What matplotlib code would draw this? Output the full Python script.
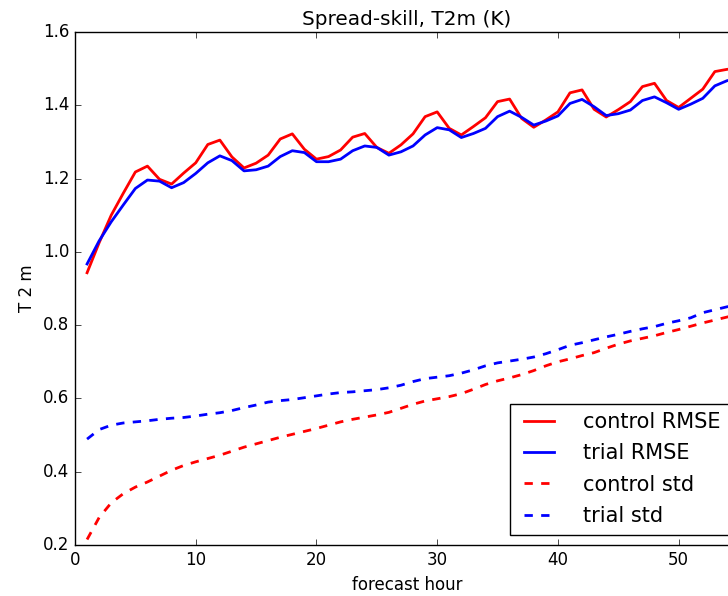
import numpy as np
import matplotlib
matplotlib.use('Agg')
import matplotlib.pyplot as plt

plt.style.use('classic')

# forecast hours
hours = np.arange(1, 56)

control_rmse = [0.943, 1.025, 1.100, 1.160, 1.218, 1.234, 1.198, 1.185, 1.215, 1.243,
                1.293, 1.305, 1.259, 1.229, 1.242, 1.264, 1.308, 1.322, 1.280, 1.253,
                1.260, 1.278, 1.313, 1.323, 1.285, 1.269, 1.292, 1.322, 1.369, 1.382,
                1.337, 1.319, 1.342, 1.366, 1.410, 1.417, 1.364, 1.340, 1.360, 1.382,
                1.434, 1.442, 1.389, 1.368, 1.388, 1.410, 1.451, 1.460, 1.413, 1.394,
                1.419, 1.444, 1.492, 1.498, 1.502]
trial_rmse = [0.967, 1.030, 1.082, 1.128, 1.173, 1.196, 1.193, 1.175, 1.189, 1.214,
              1.243, 1.262, 1.249, 1.221, 1.224, 1.234, 1.260, 1.276, 1.271, 1.246,
              1.246, 1.253, 1.276, 1.289, 1.285, 1.264, 1.273, 1.289, 1.319, 1.339,
              1.333, 1.312, 1.323, 1.337, 1.369, 1.384, 1.367, 1.346, 1.357, 1.371,
              1.405, 1.416, 1.396, 1.372, 1.377, 1.387, 1.413, 1.423, 1.407, 1.389,
              1.403, 1.419, 1.453, 1.467, 1.475]
control_std = [0.215, 0.275, 0.315, 0.340, 0.358, 0.372, 0.388, 0.404, 0.417, 0.427,
               0.436, 0.445, 0.456, 0.467, 0.476, 0.485, 0.494, 0.502, 0.510, 0.518,
               0.527, 0.536, 0.543, 0.549, 0.555, 0.562, 0.573, 0.584, 0.593, 0.599,
               0.605, 0.613, 0.625, 0.638, 0.648, 0.656, 0.665, 0.676, 0.689, 0.700,
               0.708, 0.717, 0.725, 0.737, 0.748, 0.757, 0.764, 0.771, 0.780, 0.788,
               0.797, 0.806, 0.814, 0.822, 0.830]
trial_std = [0.489, 0.515, 0.527, 0.533, 0.536, 0.539, 0.543, 0.546, 0.548, 0.552,
             0.557, 0.561, 0.567, 0.575, 0.582, 0.590, 0.594, 0.597, 0.602, 0.607,
             0.612, 0.616, 0.618, 0.621, 0.624, 0.629, 0.636, 0.646, 0.654, 0.658,
             0.662, 0.669, 0.678, 0.689, 0.697, 0.702, 0.707, 0.713, 0.722, 0.733,
             0.745, 0.752, 0.760, 0.768, 0.775, 0.783, 0.790, 0.796, 0.805, 0.812,
             0.820, 0.834, 0.842, 0.850, 0.858]

fig = plt.figure(figsize=(7.28, 5.96), dpi=100, facecolor='white')
# axes run past the right edge of the picture, as in the reference crop
ax = fig.add_axes([75 / 728, 51 / 596, 664 / 728, 513 / 596])

ax.plot(hours, control_rmse, 'r-', lw=2, label='control RMSE')
ax.plot(hours, trial_rmse, 'b-', lw=2, label='trial RMSE')
ax.plot(hours, control_std, 'r--', lw=2, label='control std')
ax.plot(hours, trial_std, 'b--', lw=2, label='trial std')

ax.set_xlim(0, 55)
ax.set_ylim(0.2, 1.6)
ax.set_xticks([0, 10, 20, 30, 40, 50])
ax.set_yticks(np.arange(0.2, 1.61, 0.2))
ax.set_xlabel('forecast hour')
ax.set_ylabel('T 2 m')
ax.set_title('Spread-skill, T2m (K)')
ax.legend(loc='lower right', fontsize=15, handletextpad=1.1, labelspacing=0.55)

fig.savefig('out.png', dpi=100, facecolor='white')
